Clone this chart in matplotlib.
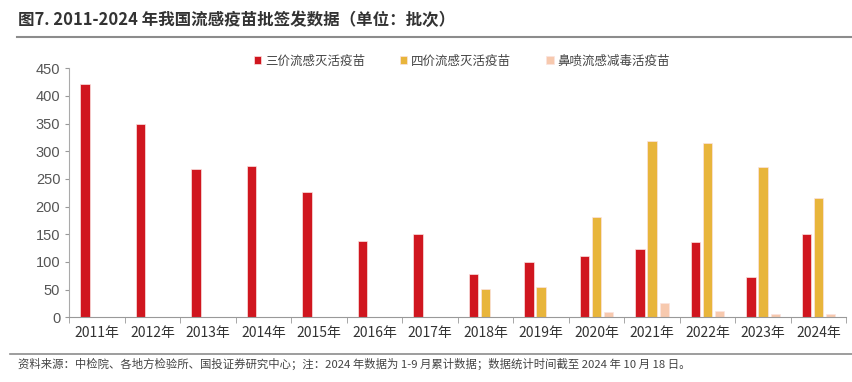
import matplotlib
matplotlib.use("Agg")
import matplotlib.pyplot as plt
import numpy as np

plt.rcParams["font.family"] = ["Noto Sans CJK SC", "DejaVu Sans"]

years = ["2011年", "2012年", "2013年", "2014年", "2015年", "2016年", "2017年",
         "2018年", "2019年", "2020年", "2021年", "2022年", "2023年", "2024年"]
trivalent = [421, 349, 268, 274, 226, 137, 150, 79, 100, 111, 123, 136, 72, 150]
quadrivalent = [0, 0, 0, 0, 0, 0, 0, 52, 55, 181, 318, 315, 271, 215]
nasal = [0, 0, 0, 0, 0, 0, 0, 0, 0, 10, 25, 11, 6.5, 6]
series_names = ["三价流感灭活疫苗", "四价流感灭活疫苗", "鼻喷流感减毒活疫苗"]
colors = ["#D0161F", "#E8B53B", "#F7C9AE"]
yticks = [0, 50, 100, 150, 200, 250, 300, 350, 400, 450]

fig = plt.figure(figsize=(8.52, 3.82), dpi=100)
ax = fig.add_axes([69.3 / 852, 1 - 317.3 / 382, 777 / 852, 249 / 382])

x = np.arange(len(years))
w = 0.17
step = 0.22
for i, (vals, name, c) in enumerate(zip([trivalent, quadrivalent, nasal], series_names, colors)):
    v = np.array(vals, dtype=float)
    mask = v > 0
    ax.bar(x[mask] + (i - 1) * step, v[mask], width=w, color=c, edgecolor="#fbe3e0",
           linewidth=0.5, label=name)

ax.set_xlim(-0.5, len(years) - 0.5)
ax.set_ylim(0, 450)
ax.set_yticks(yticks)
ax.set_xticks(x)
ax.set_xticklabels(years)
ax.set_xticks(np.arange(len(years) + 1) - 0.5, minor=True)
ax.tick_params(axis="x", which="major", length=0, pad=6, labelsize=10, labelcolor="#333333")
ax.tick_params(axis="x", which="minor", length=4, color="#999999", direction="out")
ax.tick_params(axis="y", length=3, color="#999999", labelsize=10.5, labelcolor="#555555",
               direction="out")
for lbl in ax.get_yticklabels():
    lbl.set_family(["Liberation Sans", "DejaVu Sans"])
for s in ["top", "right"]:
    ax.spines[s].set_visible(False)
ax.spines["left"].set_color("#aaaaaa")
ax.spines["bottom"].set_color("#999999")

ax.legend(loc="upper center", bbox_to_anchor=(0.505, 1.1), ncol=3, frameon=False,
          fontsize=9, handlelength=0.6, handleheight=0.6, columnspacing=2.8,
          handletextpad=0.3, labelcolor="#444444")

fig.text(18 / 852, 1 - 20 / 382, "图7. 2011-2024 年我国流感疫苗批签发数据（单位：批次）",
         fontsize=11.9, fontweight="bold", color="#333333", va="center", ha="left")
fig.add_artist(plt.Line2D([17 / 852, 1], [1 - 37 / 382, 1 - 37 / 382], color="#8c8c8c", lw=1.5))
fig.add_artist(plt.Line2D([10 / 852, 1], [1 - 354 / 382, 1 - 354 / 382], color="#8c8c8c", lw=1.2))
fig.text(18 / 852, 1 - 364 / 382,
         "资料来源：中检院、各地方检验所、国投证券研究中心；注：2024 年数据为 1-9 月累计数据；数据统计时间截至 2024 年 10 月 18 日。",
         fontsize=8.2, style="italic", color="#444444", va="center", ha="left")

fig.savefig("out.png", dpi=100)
